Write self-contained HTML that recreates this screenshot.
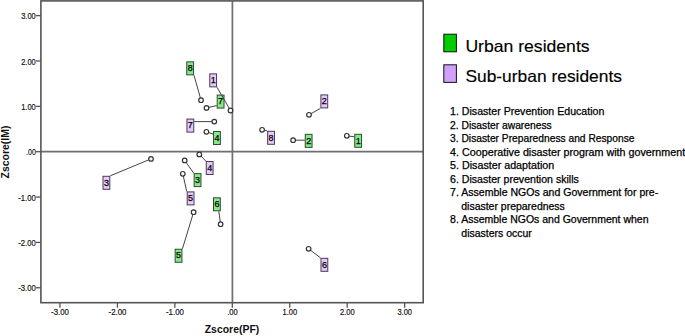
<!DOCTYPE html>
<html><head><meta charset="utf-8"><style>
html,body{margin:0;padding:0;background:#fff;width:685px;height:336px;overflow:hidden}
svg{display:block}
text{font-family:"Liberation Sans", sans-serif}
</style></head><body>
<svg width="685" height="336" viewBox="0 0 685 336">
<rect width="685" height="336" fill="#fff"/>

<line x1="40.9" y1="151.6" x2="423.2" y2="151.6" stroke="#6e6e6e" stroke-width="1.8"/>
<line x1="232.4" y1="0.9" x2="232.4" y2="302.7" stroke="#6e6e6e" stroke-width="1.7"/>
<rect x="40.9" y="0.9" width="382.30" height="301.80" fill="none" stroke="#555555" stroke-width="1.6"/>
<line x1="35.9" y1="15.65" x2="40.9" y2="15.65" stroke="#555555" stroke-width="1.3"/>
<text x="35.8" y="19.25" font-size="9.8" text-anchor="end" textLength="14.6" lengthAdjust="spacingAndGlyphs" fill="#111" stroke="#111" stroke-width="0.2">3.00</text>
<line x1="35.9" y1="61.00" x2="40.9" y2="61.00" stroke="#555555" stroke-width="1.3"/>
<text x="35.8" y="64.60" font-size="9.8" text-anchor="end" textLength="14.6" lengthAdjust="spacingAndGlyphs" fill="#111" stroke="#111" stroke-width="0.2">2.00</text>
<line x1="35.9" y1="106.35" x2="40.9" y2="106.35" stroke="#555555" stroke-width="1.3"/>
<text x="35.8" y="109.95" font-size="9.8" text-anchor="end" textLength="14.6" lengthAdjust="spacingAndGlyphs" fill="#111" stroke="#111" stroke-width="0.2">1.00</text>
<line x1="35.9" y1="151.70" x2="40.9" y2="151.70" stroke="#555555" stroke-width="1.3"/>
<text x="35.8" y="155.30" font-size="9.8" text-anchor="end" textLength="9.8" lengthAdjust="spacingAndGlyphs" fill="#111" stroke="#111" stroke-width="0.2">.00</text>
<line x1="35.9" y1="197.05" x2="40.9" y2="197.05" stroke="#555555" stroke-width="1.3"/>
<text x="35.8" y="200.65" font-size="9.8" text-anchor="end" textLength="17.6" lengthAdjust="spacingAndGlyphs" fill="#111" stroke="#111" stroke-width="0.2">-1.00</text>
<line x1="35.9" y1="242.40" x2="40.9" y2="242.40" stroke="#555555" stroke-width="1.3"/>
<text x="35.8" y="246.00" font-size="9.8" text-anchor="end" textLength="17.6" lengthAdjust="spacingAndGlyphs" fill="#111" stroke="#111" stroke-width="0.2">-2.00</text>
<line x1="35.9" y1="287.75" x2="40.9" y2="287.75" stroke="#555555" stroke-width="1.3"/>
<text x="35.8" y="291.35" font-size="9.8" text-anchor="end" textLength="17.6" lengthAdjust="spacingAndGlyphs" fill="#111" stroke="#111" stroke-width="0.2">-3.00</text>
<line x1="59.95" y1="302.7" x2="59.95" y2="307.7" stroke="#555555" stroke-width="1.3"/>
<text x="60.05" y="315.3" font-size="9.8" text-anchor="middle" textLength="17.9" lengthAdjust="spacingAndGlyphs" fill="#111" stroke="#111" stroke-width="0.2">-3.00</text>
<line x1="117.40" y1="302.7" x2="117.40" y2="307.7" stroke="#555555" stroke-width="1.3"/>
<text x="117.50" y="315.3" font-size="9.8" text-anchor="middle" textLength="17.9" lengthAdjust="spacingAndGlyphs" fill="#111" stroke="#111" stroke-width="0.2">-2.00</text>
<line x1="174.85" y1="302.7" x2="174.85" y2="307.7" stroke="#555555" stroke-width="1.3"/>
<text x="174.95" y="315.3" font-size="9.8" text-anchor="middle" textLength="17.9" lengthAdjust="spacingAndGlyphs" fill="#111" stroke="#111" stroke-width="0.2">-1.00</text>
<line x1="232.30" y1="302.7" x2="232.30" y2="307.7" stroke="#555555" stroke-width="1.3"/>
<text x="232.40" y="315.3" font-size="9.8" text-anchor="middle" textLength="10.4" lengthAdjust="spacingAndGlyphs" fill="#111" stroke="#111" stroke-width="0.2">.00</text>
<line x1="289.75" y1="302.7" x2="289.75" y2="307.7" stroke="#555555" stroke-width="1.3"/>
<text x="289.85" y="315.3" font-size="9.8" text-anchor="middle" textLength="14.6" lengthAdjust="spacingAndGlyphs" fill="#111" stroke="#111" stroke-width="0.2">1.00</text>
<line x1="347.20" y1="302.7" x2="347.20" y2="307.7" stroke="#555555" stroke-width="1.3"/>
<text x="347.30" y="315.3" font-size="9.8" text-anchor="middle" textLength="14.6" lengthAdjust="spacingAndGlyphs" fill="#111" stroke="#111" stroke-width="0.2">2.00</text>
<line x1="404.65" y1="302.7" x2="404.65" y2="307.7" stroke="#555555" stroke-width="1.3"/>
<text x="404.75" y="315.3" font-size="9.8" text-anchor="middle" textLength="14.6" lengthAdjust="spacingAndGlyphs" fill="#111" stroke="#111" stroke-width="0.2">3.00</text>
<text x="232.0" y="333.3" font-size="10.45" font-weight="bold" text-anchor="middle" fill="#111">Zscore(PF)</text>
<text transform="translate(8.6,152.0) rotate(-90)" x="0" y="0" font-size="10.45" font-weight="bold" text-anchor="middle" fill="#111">Zscore(IM)</text>
<rect x="209.75" y="73.85" width="6.80" height="13.00" fill="#e6c9f8" stroke="#4a3a58" stroke-width="1"/>
<text x="213.15" y="83.05" font-size="9" text-anchor="middle" fill="#000" stroke="#000" stroke-width="0.25">1</text>
<rect x="186.75" y="61.85" width="6.80" height="13.00" fill="#84ea88" stroke="#2f4a30" stroke-width="1"/>
<text x="190.15" y="71.05" font-size="9" text-anchor="middle" fill="#000" stroke="#000" stroke-width="0.25">8</text>
<rect x="217.20" y="95.10" width="6.80" height="13.00" fill="#84ea88" stroke="#2f4a30" stroke-width="1"/>
<text x="220.60" y="104.30" font-size="9" text-anchor="middle" fill="#000" stroke="#000" stroke-width="0.25">7</text>
<rect x="186.95" y="119.10" width="6.80" height="13.00" fill="#e6c9f8" stroke="#4a3a58" stroke-width="1"/>
<text x="190.35" y="128.30" font-size="9" text-anchor="middle" fill="#000" stroke="#000" stroke-width="0.25">7</text>
<rect x="213.55" y="131.50" width="6.80" height="13.00" fill="#84ea88" stroke="#2f4a30" stroke-width="1"/>
<text x="216.95" y="140.70" font-size="9" text-anchor="middle" fill="#000" stroke="#000" stroke-width="0.25">4</text>
<rect x="320.90" y="94.90" width="6.80" height="13.00" fill="#e6c9f8" stroke="#4a3a58" stroke-width="1"/>
<text x="324.30" y="104.10" font-size="9" text-anchor="middle" fill="#000" stroke="#000" stroke-width="0.25">2</text>
<rect x="267.65" y="131.30" width="6.80" height="13.00" fill="#e6c9f8" stroke="#4a3a58" stroke-width="1"/>
<text x="271.05" y="140.50" font-size="9" text-anchor="middle" fill="#000" stroke="#000" stroke-width="0.25">8</text>
<rect x="305.25" y="134.35" width="6.80" height="13.00" fill="#84ea88" stroke="#2f4a30" stroke-width="1"/>
<text x="308.65" y="143.55" font-size="9" text-anchor="middle" fill="#000" stroke="#000" stroke-width="0.25">2</text>
<rect x="354.75" y="134.30" width="6.80" height="13.00" fill="#84ea88" stroke="#2f4a30" stroke-width="1"/>
<text x="358.15" y="143.50" font-size="9" text-anchor="middle" fill="#000" stroke="#000" stroke-width="0.25">1</text>
<rect x="103.00" y="176.30" width="6.80" height="13.00" fill="#e6c9f8" stroke="#4a3a58" stroke-width="1"/>
<text x="106.40" y="185.50" font-size="9" text-anchor="middle" fill="#000" stroke="#000" stroke-width="0.25">3</text>
<rect x="206.25" y="161.50" width="6.80" height="13.00" fill="#e6c9f8" stroke="#4a3a58" stroke-width="1"/>
<text x="209.65" y="170.70" font-size="9" text-anchor="middle" fill="#000" stroke="#000" stroke-width="0.25">4</text>
<rect x="194.15" y="173.60" width="6.80" height="13.00" fill="#84ea88" stroke="#2f4a30" stroke-width="1"/>
<text x="197.55" y="182.80" font-size="9" text-anchor="middle" fill="#000" stroke="#000" stroke-width="0.25">3</text>
<rect x="187.20" y="191.90" width="6.80" height="13.00" fill="#e6c9f8" stroke="#4a3a58" stroke-width="1"/>
<text x="190.60" y="201.10" font-size="9" text-anchor="middle" fill="#000" stroke="#000" stroke-width="0.25">5</text>
<rect x="175.15" y="249.25" width="6.80" height="13.00" fill="#84ea88" stroke="#2f4a30" stroke-width="1"/>
<text x="178.55" y="258.45" font-size="9" text-anchor="middle" fill="#000" stroke="#000" stroke-width="0.25">5</text>
<rect x="213.50" y="197.80" width="6.80" height="13.00" fill="#84ea88" stroke="#2f4a30" stroke-width="1"/>
<text x="216.90" y="207.00" font-size="9" text-anchor="middle" fill="#000" stroke="#000" stroke-width="0.25">6</text>
<rect x="321.00" y="258.30" width="6.80" height="13.00" fill="#e6c9f8" stroke="#4a3a58" stroke-width="1"/>
<text x="324.40" y="267.50" font-size="9" text-anchor="middle" fill="#000" stroke="#000" stroke-width="0.25">6</text>
<line x1="230.5" y1="110.5" x2="217.05" y2="87.35" stroke="#444" stroke-width="1"/>
<line x1="201.0" y1="100.2" x2="194.05" y2="75.35" stroke="#444" stroke-width="1"/>
<line x1="206.5" y1="107.9" x2="216.70" y2="105.60" stroke="#444" stroke-width="1"/>
<line x1="214.3" y1="121.6" x2="194.25" y2="121.60" stroke="#444" stroke-width="1"/>
<line x1="206.4" y1="131.8" x2="213.05" y2="134.00" stroke="#444" stroke-width="1"/>
<line x1="309.0" y1="114.8" x2="320.40" y2="108.40" stroke="#444" stroke-width="1"/>
<line x1="262.1" y1="129.8" x2="267.15" y2="130.80" stroke="#444" stroke-width="1"/>
<line x1="293.1" y1="140.2" x2="304.75" y2="140.20" stroke="#444" stroke-width="1"/>
<line x1="346.8" y1="135.8" x2="354.25" y2="136.80" stroke="#444" stroke-width="1"/>
<line x1="151.0" y1="158.9" x2="110.30" y2="175.80" stroke="#444" stroke-width="1"/>
<line x1="199.3" y1="154.4" x2="205.75" y2="161.00" stroke="#444" stroke-width="1"/>
<line x1="184.7" y1="160.4" x2="193.65" y2="173.10" stroke="#444" stroke-width="1"/>
<line x1="182.8" y1="173.8" x2="186.70" y2="191.40" stroke="#444" stroke-width="1"/>
<line x1="193.6" y1="212.2" x2="182.45" y2="248.75" stroke="#444" stroke-width="1"/>
<line x1="220.6" y1="224.2" x2="218.80" y2="211.30" stroke="#444" stroke-width="1"/>
<line x1="308.6" y1="248.8" x2="320.50" y2="257.80" stroke="#444" stroke-width="1"/>
<circle cx="230.5" cy="110.5" r="2.3" fill="#fff" stroke="#333" stroke-width="1.2"/>
<circle cx="201.0" cy="100.2" r="2.3" fill="#fff" stroke="#333" stroke-width="1.2"/>
<circle cx="206.5" cy="107.9" r="2.3" fill="#fff" stroke="#333" stroke-width="1.2"/>
<circle cx="214.3" cy="121.6" r="2.3" fill="#fff" stroke="#333" stroke-width="1.2"/>
<circle cx="206.4" cy="131.8" r="2.3" fill="#fff" stroke="#333" stroke-width="1.2"/>
<circle cx="309.0" cy="114.8" r="2.3" fill="#fff" stroke="#333" stroke-width="1.2"/>
<circle cx="262.1" cy="129.8" r="2.3" fill="#fff" stroke="#333" stroke-width="1.2"/>
<circle cx="293.1" cy="140.2" r="2.3" fill="#fff" stroke="#333" stroke-width="1.2"/>
<circle cx="346.8" cy="135.8" r="2.3" fill="#fff" stroke="#333" stroke-width="1.2"/>
<circle cx="151.0" cy="158.9" r="2.3" fill="#fff" stroke="#333" stroke-width="1.2"/>
<circle cx="199.3" cy="154.4" r="2.3" fill="#fff" stroke="#333" stroke-width="1.2"/>
<circle cx="184.7" cy="160.4" r="2.3" fill="#fff" stroke="#333" stroke-width="1.2"/>
<circle cx="182.8" cy="173.8" r="2.3" fill="#fff" stroke="#333" stroke-width="1.2"/>
<circle cx="193.6" cy="212.2" r="2.3" fill="#fff" stroke="#333" stroke-width="1.2"/>
<circle cx="220.6" cy="224.2" r="2.3" fill="#fff" stroke="#333" stroke-width="1.2"/>
<circle cx="308.6" cy="248.8" r="2.3" fill="#fff" stroke="#333" stroke-width="1.2"/>
<rect x="443.8" y="34.2" width="12.6" height="17.6" fill="#00cc00" stroke="#111" stroke-width="1"/>
<rect x="443.8" y="64.8" width="12.6" height="17.6" fill="#d0a0fb" stroke="#111" stroke-width="1"/>
<text x="465.4" y="51.8" font-size="16.5" textLength="124.2" lengthAdjust="spacingAndGlyphs" fill="#000" stroke="#000" stroke-width="0.15">Urban residents</text>
<text x="465.4" y="81.8" font-size="16.5" textLength="156.6" lengthAdjust="spacingAndGlyphs" fill="#000" stroke="#000" stroke-width="0.15">Sub-urban residents</text>
<text x="450.1" y="114.8" font-size="10" textLength="154.2" lengthAdjust="spacingAndGlyphs" fill="#000" stroke="#000" stroke-width="0.25">1. Disaster Prevention Education</text>
<text x="450.1" y="128.5" font-size="10" textLength="101.6" lengthAdjust="spacingAndGlyphs" fill="#000" stroke="#000" stroke-width="0.25">2. Disaster awareness</text>
<text x="450.1" y="141.9" font-size="10" textLength="184.4" lengthAdjust="spacingAndGlyphs" fill="#000" stroke="#000" stroke-width="0.25">3. Disaster Preparedness and Response</text>
<text x="450.1" y="155.6" font-size="10" textLength="235.1" lengthAdjust="spacingAndGlyphs" fill="#000" stroke="#000" stroke-width="0.25">4. Cooperative disaster program with government</text>
<text x="450.1" y="169.0" font-size="10" textLength="104.1" lengthAdjust="spacingAndGlyphs" fill="#000" stroke="#000" stroke-width="0.25">5. Disaster adaptation</text>
<text x="450.1" y="182.9" font-size="10" textLength="128.7" lengthAdjust="spacingAndGlyphs" fill="#000" stroke="#000" stroke-width="0.25">6. Disaster prevention skills</text>
<text x="450.1" y="196.4" font-size="10" textLength="208.1" lengthAdjust="spacingAndGlyphs" fill="#000" stroke="#000" stroke-width="0.25">7. Assemble NGOs and Government for pre-</text>
<text x="461.3" y="209.7" font-size="10" textLength="103.5" lengthAdjust="spacingAndGlyphs" fill="#000" stroke="#000" stroke-width="0.25">disaster preparedness</text>
<text x="450.1" y="223.2" font-size="10" textLength="198.4" lengthAdjust="spacingAndGlyphs" fill="#000" stroke="#000" stroke-width="0.25">8. Assemble NGOs and Government when</text>
<text x="461.3" y="236.6" font-size="10" textLength="70.5" lengthAdjust="spacingAndGlyphs" fill="#000" stroke="#000" stroke-width="0.25">disasters occur</text>
</svg></body></html>
